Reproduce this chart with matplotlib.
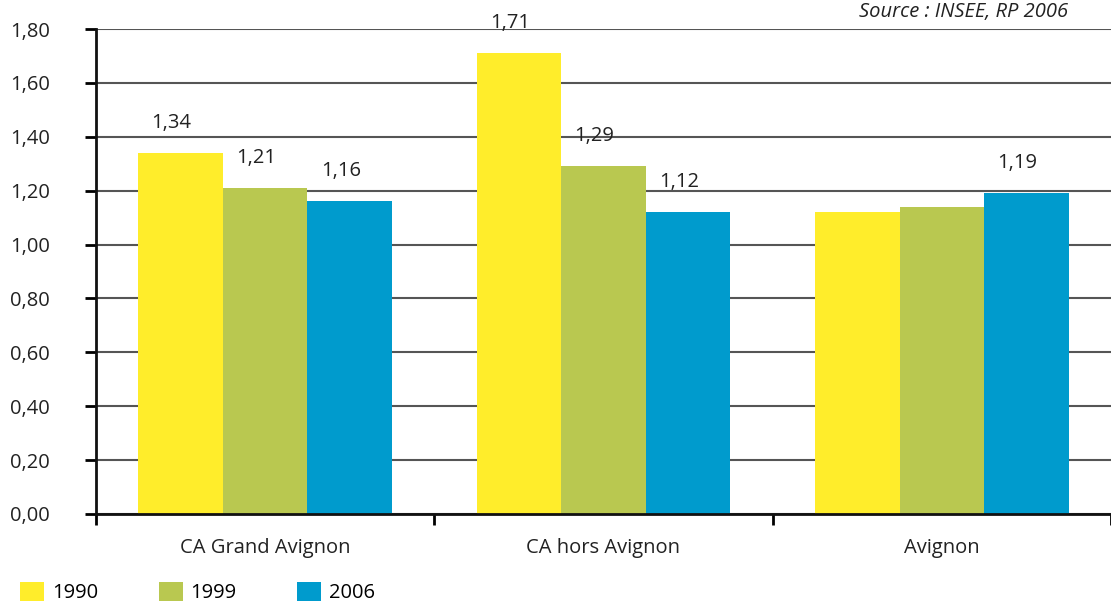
import matplotlib
matplotlib.use("Agg")
import matplotlib.pyplot as plt
import numpy as np

categories = ["CA Grand Avignon", "CA hors Avignon", "Avignon"]
years = ["1990", "1999", "2006"]
v1990 = [1.34, 1.71, 1.12]
v1999 = [1.21, 1.29, 1.14]
v2006 = [1.16, 1.12, 1.19]
labels1990 = ["1,34", "1,71", ""]
labels1999 = ["1,21", "1,29", ""]
labels2006 = ["1,16", "1,12", "1,19"]
yticks = [0, 0.2, 0.4, 0.6, 0.8, 1.0, 1.2, 1.4, 1.6, 1.8]
ytick_labels = ["0,00", "0,20", "0,40", "0,60", "0,80", "1,00", "1,20", "1,40", "1,60", "1,80"]

colors = ["#FFED2B", "#B9C850", "#009BCD"]

plt.rcParams['font.family'] = ['Open Sans', 'DejaVu Sans']
FS = 14.5
TC = "#222222"

fig = plt.figure(figsize=(11.11, 6.03), dpi=100)
ax = fig.add_axes([96/1111, 1 - 514/603, 1 - 96/1111, (514 - 29)/603])

x = np.arange(len(categories))
w = 0.25
series = [v1990, v1999, v2006]
lbls = [labels1990, labels1999, labels2006]
for i, (vals, lab) in enumerate(zip(series, lbls)):
    pos = x + (i - 1) * w
    ax.bar(pos, vals, width=w, color=colors[i], label=years[i], zorder=2)
    for p, v, t in zip(pos, vals, lab):
        if t:
            ax.annotate(t, (p, v), xytext=(-9, 30), textcoords="offset pixels",
                        ha="center", va="center", fontsize=FS, color=TC)

ax.set_xlim(-0.5, 2.5)
ax.set_ylim(0, 1.8)
ax.set_yticks(yticks)
ax.set_yticklabels(ytick_labels, fontsize=FS, color=TC)
ax.yaxis.grid(True, color="#555555", linewidth=1.5, zorder=0)
ax.set_axisbelow(True)

ax.set_xticks([-0.5, 0.5, 1.5, 2.5])
ax.set_xticklabels([])
ax.set_xticks(x, minor=True)
ax.set_xticklabels(categories, minor=True, fontsize=FS, color=TC)
ax.tick_params(axis="x", which="major", length=8, width=2, direction="out")
ax.tick_params(axis="x", which="minor", length=0, pad=17)
ax.tick_params(axis="y", length=8, width=2, direction="out", pad=25)

for s in ["top", "right"]:
    ax.spines[s].set_visible(False)
for s in ["left", "bottom"]:
    ax.spines[s].set_linewidth(2)
    ax.spines[s].set_color("#111111")

fig.text(1068/1111, 1 - 12/603, "Source : INSEE, RP 2006", ha="right", va="center",
         fontsize=FS, style="italic", color=TC)

fig.legend(loc="lower left", bbox_to_anchor=(12/1111, -0.014), ncol=3, frameon=False,
           fontsize=FS, handlelength=1.19, handleheight=1.1, handletextpad=0.4,
           columnspacing=3.0, borderaxespad=0)

fig.savefig("out.png", dpi=100)
